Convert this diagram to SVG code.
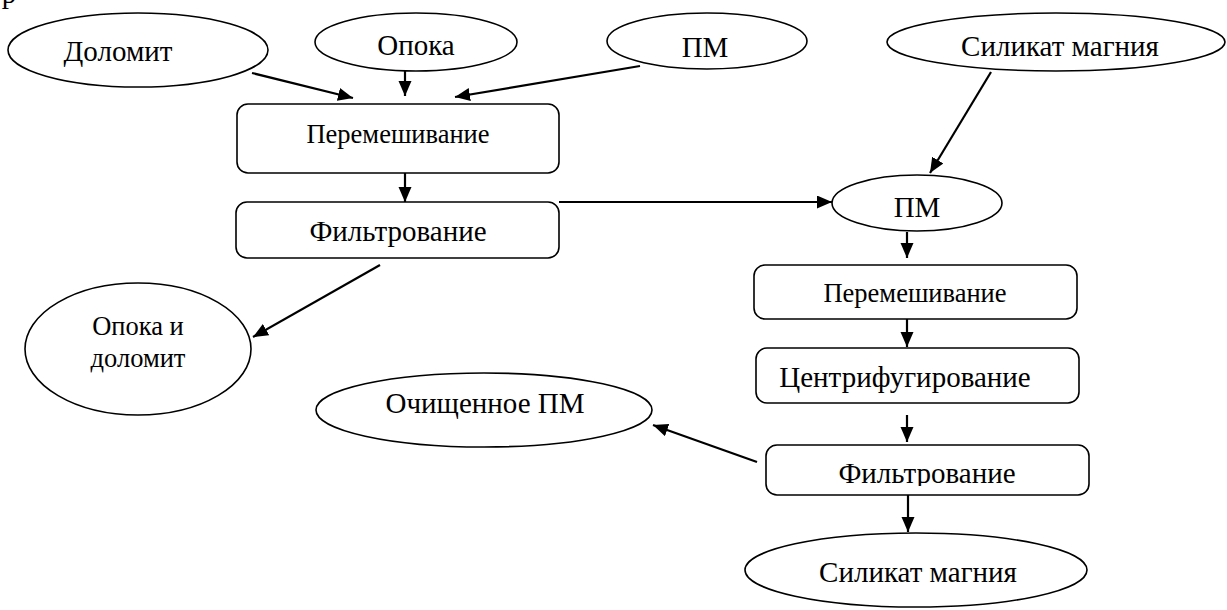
<svg xmlns="http://www.w3.org/2000/svg" width="1227" height="610" viewBox="0 0 1227 610">
<defs>
<style>
.sh{fill:#fff;stroke:#000;stroke-width:1.6}
.t{font-family:"Liberation Serif","Times New Roman",serif;fill:#000;text-anchor:middle}
.big{font-size:29px}
.mid{font-size:26.5px}
.c line{stroke:#000;stroke-width:2.2;marker-end:url(#ah)}
</style>
<marker id="ah" markerUnits="userSpaceOnUse" markerWidth="16" markerHeight="14" refX="15" refY="6.5" orient="auto">
<path d="M0,0 L15,6.5 L0,13 z" fill="#000"/>
</marker>
<clipPath id="clipF2"><rect x="760" y="440" width="340" height="46"/></clipPath>
</defs>
<rect width="1227" height="610" fill="#fff"/>
<text class="t big" x="9" y="3">р</text>

<g id="dolomit"><ellipse class="sh" cx="138" cy="50" rx="130" ry="37"/><text class="t big" x="118" y="61">Доломит</text></g>
<g id="opoka"><ellipse class="sh" cx="416" cy="42" rx="101" ry="29"/><text class="t big" x="416" y="55">Опока</text></g>
<g id="pm1"><ellipse class="sh" cx="707" cy="41" rx="100" ry="28"/><text class="t big" x="705" y="57">ПМ</text></g>
<g id="silikat1"><ellipse class="sh" cx="1056" cy="42" rx="169" ry="29"/><text class="t big" x="1060" y="56">Силикат магния</text></g>
<g id="mix1"><rect class="sh" x="237" y="104" width="322" height="69" rx="11"/><text class="t mid" x="398" y="143">Перемешивание</text></g>
<g id="filt1"><rect class="sh" x="236" y="202" width="323" height="56" rx="11"/><text class="t big" x="398" y="241">Фильтрование</text></g>
<g id="opdol"><ellipse class="sh" cx="138" cy="349" rx="113" ry="66"/><text class="t mid" x="138" y="335">Опока и</text><text class="t mid" x="138" y="367">доломит</text></g>
<g id="pm2"><ellipse class="sh" cx="917" cy="203" rx="85" ry="28"/><text class="t big" x="917" y="217">ПМ</text></g>
<g id="mix2"><rect class="sh" x="754" y="265" width="323" height="54" rx="11"/><text class="t mid" x="915" y="302">Перемешивание</text></g>
<g id="centr"><rect class="sh" x="756" y="348" width="323" height="55" rx="11"/><text class="t big" x="905" y="387">Центрифугирование</text></g>
<g id="filt2"><rect class="sh" x="766" y="445" width="323" height="50" rx="11"/><text class="t big" x="927" y="483" clip-path="url(#clipF2)">Фильтрование</text></g>
<g id="ochpm"><ellipse class="sh" cx="484" cy="410" rx="168" ry="37"/><text class="t big" x="485" y="413">Очищенное ПМ</text></g>
<g id="silikat2"><ellipse class="sh" cx="916" cy="570" rx="171" ry="37"/><text class="t big" x="918" y="582">Силикат магния</text></g>

<g id="connectors" class="c">
<line x1="252" y1="73" x2="353" y2="98"/>
<line x1="405" y1="71" x2="405" y2="96"/>
<line x1="640" y1="66" x2="455" y2="97"/>
<line x1="405" y1="173" x2="405" y2="202"/>
<line x1="559" y1="202" x2="832" y2="202"/>
<line x1="991" y1="72" x2="930" y2="173"/>
<line x1="380" y1="265" x2="253" y2="337"/>
<line x1="907" y1="232" x2="907" y2="258"/>
<line x1="907" y1="319" x2="907" y2="347"/>
<line x1="907" y1="415" x2="907" y2="442"/>
<line x1="908" y1="495" x2="908" y2="532"/>
<line x1="757" y1="462" x2="653" y2="425"/>
</g>
</svg>
